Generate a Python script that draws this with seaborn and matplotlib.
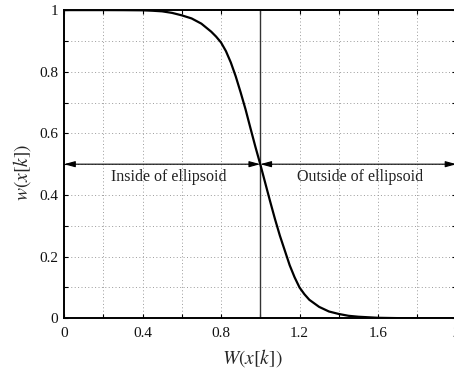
import matplotlib
matplotlib.use("Agg")
import matplotlib.pyplot as plt
import seaborn as sns

# Values
w_big = [0.0, 0.2, 0.3, 0.4, 0.45, 0.5, 0.55, 0.6, 0.65, 0.7, 0.75, 0.775,
         0.8, 0.825, 0.85, 0.875, 0.9, 0.925, 0.95, 0.975, 1.0, 1.025, 1.05,
         1.075, 1.1, 1.125, 1.15, 1.175, 1.2, 1.225, 1.25, 1.3, 1.35, 1.4,
         1.45, 1.5, 1.6, 1.7, 1.8, 2.0]
w_small = [1.0, 1.0, 0.9998, 0.9993, 0.998, 0.996, 0.991, 0.983, 0.973,
           0.956, 0.93, 0.914, 0.895, 0.867, 0.83, 0.785, 0.733, 0.678,
           0.617, 0.557, 0.50, 0.44, 0.38, 0.322, 0.268, 0.22, 0.172, 0.133,
           0.10, 0.078, 0.06, 0.037, 0.022, 0.014, 0.008, 0.005, 0.0015,
           0.0005, 0.0, 0.0]
x_ticks = [0, 0.4, 0.8, 1.2, 1.6, 2]
x_tick_labels = ["0", "0.4", "0.8", "1.2", "1.6", "2"]
y_ticks = [0, 0.2, 0.4, 0.6, 0.8, 1]
y_tick_labels = ["0", "0.2", "0.4", "0.6", "0.8", "1"]
threshold = 1.0
region_labels = ["Inside of ellipsoid", "Outside of ellipsoid"]

sns.set_theme(style="white")
plt.rcParams["font.family"] = ["Liberation Serif", "DejaVu Serif"]
plt.rcParams["mathtext.fontset"] = "stix"

fig = plt.figure(figsize=(4.54, 3.74), dpi=100)
ax = fig.add_axes([0.141, 0.149, 0.8645, 0.824])

sns.lineplot(x=w_big, y=w_small, ax=ax, color="black", linewidth=1.6, sort=True)

ax.set_xlim(0, 2)
ax.set_ylim(0, 1)
ax.set_xticks(x_ticks)
ax.set_xticklabels(x_tick_labels)
ax.set_yticks(y_ticks)
ax.set_yticklabels(y_tick_labels)
ax.set_xticks([0.2, 0.6, 1.0, 1.4, 1.8], minor=True)
ax.set_yticks([0.1, 0.3, 0.5, 0.7, 0.9], minor=True)
ax.grid(True, which="both", color="#9a9a9a", linestyle=(0, (1, 2.5)), linewidth=0.7)
ax.set_axisbelow(True)

ax.tick_params(which="both", direction="in", top=True, right=True,
               bottom=True, left=True, length=3, width=0.8, color="black",
               labelsize=11, labelcolor="#111111", pad=4)
ax.tick_params(axis="x", which="major", pad=6.5)
for s in ax.spines.values():
    s.set_color("black")
    s.set_linewidth(1.4)

# vertical threshold line
ax.axvline(threshold, color="#333333", linewidth=1.0, zorder=1.5)

# double arrows at w = 0.5
arrow_kw = dict(arrowstyle="<|-|>,head_length=0.55,head_width=0.15",
                color="black", lw=0.8, shrinkA=0, shrinkB=0)
ax.annotate("", xy=(0, 0.5), xytext=(threshold, 0.5), arrowprops=arrow_kw)
ax.annotate("", xy=(threshold, 0.5), xytext=(2, 0.5), arrowprops=arrow_kw,
            annotation_clip=False)

ax.text(0.535, 0.458, region_labels[0], ha="center", va="center",
        fontsize=11.5, color="#222222")
ax.text(1.51, 0.458, region_labels[1], ha="center", va="center",
        fontsize=11.5, color="#222222")

ax.set_xlabel(r"$W(x[k])$", fontsize=14)
ax.set_ylabel(r"$w(x[k])$", fontsize=14)
ax.xaxis.set_label_coords(0.48, -0.095)
ax.yaxis.set_label_coords(-0.08, 0.472)

fig.savefig("out.png", dpi=100)
